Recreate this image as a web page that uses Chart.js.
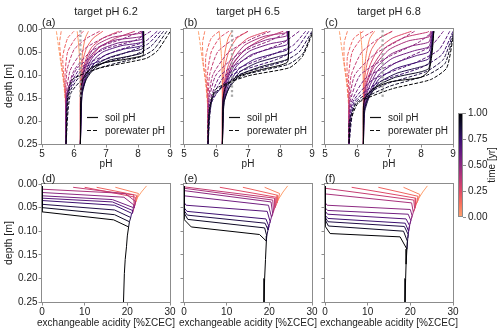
<!DOCTYPE html>
<html>
<head>
<meta charset="utf-8">
<script src="https://cdn.jsdelivr.net/npm/chart.js@4.4.0/dist/chart.umd.min.js"></script>
<style>
  body { margin: 0; background: #fff; }
  #fig { position: relative; width: 500px; height: 332px; overflow: hidden;
         font-family: "Liberation Sans", Arial, sans-serif; color: #222; }
  #fig canvas { position: absolute; left: 0; top: 0; }
  .txt { position: absolute; white-space: nowrap; line-height: 1; }
</style>
</head>
<body>
<div id="fig"></div>
<script>
// time steps [yr], one curve per step
const TIMES = [0, 0.083, 0.167, 0.25, 0.333, 0.417, 0.5, 0.583, 0.667, 0.75, 0.833, 0.917, 1];
const TARGET_PH = [6.2, 6.5, 6.8];
const TARGET_DEPTHS = [0.005, 0.015, 0.025, 0.035, 0.045, 0.055, 0.065, 0.075, 0.085, 0.095, 0.105, 0.115, 0.125, 0.135, 0.145];
const DEPTH_TICKS = [0, 0.05, 0.1, 0.15, 0.2, 0.25];
const PH_TICKS = [5, 6, 7, 8, 9];
const ACID_TICKS = [0, 10, 20, 30];
const CBAR_TICKS = [0, 0.25, 0.5, 0.75, 1];

// [pH, depth] points, soil pH (solid) and porewater pH (dashed)
const SOIL_A = [
  [[6.10,.005],[6.14,.03],[6.17,.06],[6.19,.10],[6.20,.15],[6.20,.25]],
  [[6.45,.005],[6.35,.02],[6.27,.05],[6.22,.09],[6.20,.13],[6.20,.25]],
  [[6.90,.005],[6.60,.02],[6.40,.04],[6.27,.07],[6.22,.11],[6.20,.15],[6.20,.25]],
  [[7.40,.005],[6.90,.02],[6.55,.04],[6.35,.07],[6.25,.10],[6.20,.15],[6.20,.25]],
  [[7.90,.005],[7.30,.02],[6.80,.04],[6.45,.07],[6.28,.10],[6.21,.15],[6.20,.25]],
  [[8.10,.005],[8.10,.009],[7.20,.018],[6.70,.035],[6.45,.06],[6.30,.09],[6.22,.14],[6.20,.25]],
  [[8.12,.005],[8.12,.016],[7.30,.024],[6.80,.038],[6.50,.06],[6.32,.09],[6.23,.13],[6.20,.25]],
  [[8.13,.005],[8.13,.022],[7.40,.030],[6.85,.044],[6.55,.065],[6.35,.095],[6.23,.14],[6.20,.25]],
  [[8.14,.005],[8.13,.028],[7.50,.036],[6.90,.050],[6.58,.07],[6.37,.10],[6.24,.14],[6.20,.25]],
  [[8.15,.005],[8.14,.035],[7.60,.043],[7.00,.056],[6.62,.076],[6.40,.10],[6.25,.14],[6.20,.25]],
  [[8.16,.005],[8.15,.042],[7.70,.050],[7.10,.062],[6.65,.08],[6.40,.105],[6.25,.145],[6.20,.25]],
  [[8.17,.005],[8.16,.050],[7.80,.058],[7.10,.068],[6.65,.085],[6.38,.11],[6.24,.14],[6.20,.25]],
  [[8.18,.005],[8.17,.052],[8.15,.058],[7.60,.066],[6.90,.074],[6.50,.087],[6.30,.105],[6.22,.13],[6.20,.25]]
];
const PORE_A = [
  [[5.45,.005],[5.50,.03],[5.58,.07],[5.68,.12],[5.74,.17],[5.75,.25]],
  [[5.60,.005],[5.55,.03],[5.60,.07],[5.69,.12],[5.75,.17],[5.75,.25]],
  [[6.00,.005],[5.80,.02],[5.65,.06],[5.70,.12],[5.75,.17],[5.75,.25]],
  [[6.30,.005],[6.05,.02],[5.80,.05],[5.72,.10],[5.75,.17],[5.75,.25]],
  [[6.80,.005],[6.40,.02],[6.00,.045],[5.78,.09],[5.74,.15],[5.75,.25]],
  [[7.50,.005],[6.90,.02],[6.30,.045],[5.88,.09],[5.75,.15],[5.75,.25]],
  [[8.10,.005],[7.50,.022],[6.60,.045],[6.00,.09],[5.76,.15],[5.75,.25]],
  [[8.40,.005],[7.90,.025],[6.90,.045],[6.10,.085],[5.78,.14],[5.75,.25]],
  [[8.60,.005],[8.20,.028],[7.30,.048],[6.20,.085],[5.80,.14],[5.75,.25]],
  [[8.70,.005],[8.30,.033],[7.60,.052],[6.30,.085],[5.82,.14],[5.75,.25]],
  [[8.80,.005],[8.40,.038],[7.90,.056],[6.40,.087],[5.85,.14],[5.75,.25]],
  [[8.90,.005],[8.50,.044],[8.10,.060],[6.60,.09],[5.90,.14],[5.75,.25]],
  [[9.00,.006],[8.60,.048],[8.25,.064],[6.80,.085],[5.95,.11],[5.80,.15],[5.75,.25]]
];
const SOIL_B = [
  [[6.10,.005],[6.14,.03],[6.17,.06],[6.19,.10],[6.20,.15],[6.20,.25]],
  [[6.50,.005],[6.38,.02],[6.28,.05],[6.22,.09],[6.20,.13],[6.20,.25]],
  [[7.00,.005],[6.65,.02],[6.42,.045],[6.28,.08],[6.22,.12],[6.20,.25]],
  [[7.60,.005],[7.00,.02],[6.60,.045],[6.38,.08],[6.25,.12],[6.20,.25]],
  [[8.10,.005],[7.50,.02],[6.90,.045],[6.50,.08],[6.28,.12],[6.20,.17],[6.20,.25]],
  [[8.20,.005],[8.20,.008],[7.50,.016],[6.90,.035],[6.50,.07],[6.30,.11],[6.21,.16],[6.20,.25]],
  [[8.22,.005],[8.21,.015],[7.60,.023],[7.00,.040],[6.58,.07],[6.33,.11],[6.22,.16],[6.20,.25]],
  [[8.23,.005],[8.22,.024],[7.70,.032],[7.05,.048],[6.62,.075],[6.35,.11],[6.22,.16],[6.20,.25]],
  [[8.24,.005],[8.23,.033],[7.80,.041],[7.10,.056],[6.65,.08],[6.37,.115],[6.23,.16],[6.20,.25]],
  [[8.25,.005],[8.24,.044],[7.90,.052],[7.20,.066],[6.70,.088],[6.40,.12],[6.24,.16],[6.20,.25]],
  [[8.26,.005],[8.25,.053],[7.95,.060],[7.30,.073],[6.75,.093],[6.42,.125],[6.25,.16],[6.20,.25]],
  [[8.27,.005],[8.25,.064],[8.00,.071],[7.35,.083],[6.75,.10],[6.40,.13],[6.25,.16],[6.20,.25]],
  [[8.28,.005],[8.26,.066],[8.22,.073],[8.00,.079],[7.37,.089],[6.66,.104],[6.30,.126],[6.22,.154],[6.20,.25]]
];
const PORE_B = [
  [[5.45,.005],[5.50,.03],[5.58,.07],[5.68,.12],[5.74,.17],[5.75,.25]],
  [[5.65,.005],[5.58,.03],[5.60,.07],[5.69,.12],[5.75,.17],[5.75,.25]],
  [[6.10,.005],[5.85,.02],[5.68,.06],[5.70,.12],[5.75,.17],[5.75,.25]],
  [[6.40,.005],[6.10,.02],[5.85,.05],[5.73,.10],[5.75,.17],[5.75,.25]],
  [[7.00,.005],[6.55,.022],[6.05,.05],[5.80,.10],[5.75,.16],[5.75,.25]],
  [[7.70,.005],[7.10,.022],[6.40,.05],[5.90,.10],[5.76,.16],[5.75,.25]],
  [[8.30,.005],[7.70,.025],[6.75,.052],[6.00,.10],[5.77,.16],[5.75,.25]],
  [[8.60,.005],[8.10,.030],[7.20,.055],[6.15,.10],[5.80,.16],[5.75,.25]],
  [[8.80,.005],[8.40,.036],[7.60,.060],[6.30,.10],[5.83,.16],[5.75,.25]],
  [[8.90,.005],[8.50,.044],[7.90,.066],[6.50,.10],[5.86,.16],[5.75,.25]],
  [[9.00,.005],[8.60,.050],[8.10,.071],[6.70,.10],[5.90,.15],[5.75,.25]],
  [[9.00,.008],[8.70,.055],[8.25,.077],[6.90,.10],[5.95,.14],[5.76,.20],[5.75,.25]],
  [[9.00,.012],[8.70,.060],[8.30,.084],[7.00,.102],[6.00,.13],[5.80,.17],[5.75,.25]]
];
const SOIL_C = [
  [[6.10,.005],[6.14,.03],[6.17,.06],[6.19,.10],[6.20,.15],[6.20,.25]],
  [[6.55,.005],[6.40,.02],[6.30,.05],[6.23,.09],[6.20,.13],[6.20,.25]],
  [[7.10,.005],[6.70,.02],[6.45,.045],[6.30,.08],[6.22,.12],[6.20,.25]],
  [[7.70,.005],[7.10,.02],[6.65,.045],[6.40,.08],[6.25,.12],[6.20,.25]],
  [[8.25,.005],[8.20,.007],[7.50,.018],[6.90,.040],[6.50,.08],[6.28,.12],[6.20,.17],[6.20,.25]],
  [[8.30,.005],[8.25,.017],[7.60,.026],[7.00,.045],[6.55,.08],[6.30,.12],[6.21,.17],[6.20,.25]],
  [[8.32,.005],[8.25,.028],[7.70,.037],[7.05,.055],[6.60,.085],[6.33,.125],[6.22,.17],[6.20,.25]],
  [[8.35,.005],[8.25,.038],[7.80,.047],[7.10,.064],[6.65,.09],[6.36,.13],[6.22,.17],[6.20,.25]],
  [[8.37,.005],[8.25,.049],[7.85,.058],[7.20,.074],[6.70,.098],[6.40,.135],[6.23,.17],[6.20,.25]],
  [[8.38,.005],[8.25,.064],[7.90,.072],[7.20,.086],[6.70,.108],[6.40,.14],[6.24,.17],[6.20,.25]],
  [[8.40,.005],[8.25,.075],[7.95,.083],[7.25,.096],[6.70,.116],[6.40,.145],[6.24,.18],[6.20,.25]],
  [[8.40,.005],[8.25,.085],[8.00,.093],[7.20,.105],[6.65,.123],[6.35,.15],[6.22,.18],[6.20,.25]],
  [[8.40,.005],[8.35,.05],[8.25,.09],[8.00,.105],[7.03,.115],[6.50,.13],[6.25,.15],[6.20,.17],[6.20,.25]]
];
const PORE_C = [
  [[5.45,.005],[5.50,.03],[5.58,.07],[5.68,.12],[5.74,.17],[5.75,.25]],
  [[5.70,.005],[5.60,.03],[5.60,.07],[5.69,.12],[5.75,.17],[5.75,.25]],
  [[6.20,.005],[5.90,.02],[5.70,.06],[5.70,.12],[5.75,.17],[5.75,.25]],
  [[6.50,.005],[6.15,.02],[5.85,.05],[5.74,.10],[5.75,.17],[5.75,.25]],
  [[7.10,.005],[6.65,.022],[6.15,.05],[5.82,.10],[5.75,.16],[5.75,.25]],
  [[7.80,.005],[7.30,.025],[6.55,.055],[5.93,.10],[5.76,.16],[5.75,.25]],
  [[8.40,.005],[7.90,.030],[7.00,.06],[6.10,.10],[5.78,.16],[5.75,.25]],
  [[8.70,.005],[8.30,.038],[7.45,.066],[6.30,.105],[5.82,.16],[5.75,.25]],
  [[8.90,.005],[8.55,.046],[7.80,.074],[6.50,.11],[5.86,.16],[5.75,.25]],
  [[9.00,.005],[8.65,.056],[8.00,.084],[6.70,.115],[5.90,.16],[5.75,.25]],
  [[9.00,.010],[8.70,.066],[8.15,.093],[6.90,.12],[5.95,.16],[5.75,.25]],
  [[9.00,.015],[8.75,.075],[8.20,.10],[7.00,.125],[6.00,.16],[5.76,.20],[5.75,.25]],
  [[9.00,.020],[8.80,.085],[8.30,.11],[7.10,.13],[6.05,.16],[5.80,.20],[5.75,.25]]
];

// [exchangeable acidity, depth]; each curve continues down its panel's deep profile
const SPINE_D = [[24.5,.004],[23.3,.017],[22.3,.03],[21.9,.04],[21.6,.05],[21.2,.062],[20.8,.071],[20.5,.08],[20.3,.091],[20.0,.11],[19.8,.133],[19.5,.16],[19.3,.19],[19.1,.25]];
const ACID_D = [
  [[24.5,.004]],
  [[17.2,.007],[22.6,.020],[22.2,.033]],
  [[12.8,.007],[22.2,.024],[21.9,.040]],
  [[10.0,.007],[21.9,.028],[21.7,.045]],
  [[7.3,.007],[21.5,.023],[21.6,.050]],
  [[0,.005],[0,.011],[19.5,.020],[21.9,.037]],
  [[0,.005],[0,.018],[19.2,.028],[21.6,.045]],
  [[0,.005],[0,.025],[16.5,.033],[21.4,.050]],
  [[0,.005],[0,.030],[16.5,.038],[21.2,.056]],
  [[0,.005],[0,.035],[17.0,.045],[21.0,.062]],
  [[0,.005],[0,.043],[17.0,.055],[20.8,.071]],
  [[0,.005],[0,.050],[17.0,.065],[20.5,.080]],
  [[0,.005],[0,.059],[16.8,.076],[20.3,.091]]
];
const SPINE_E = [[24.3,.004],[23.2,.017],[22.3,.03],[21.7,.04],[21.3,.05],[20.9,.06],[20.5,.07],[20.1,.083],[19.7,.097],[19.4,.11],[19.3,.121],[19.1,.16],[18.9,.2],[18.75,.25]];
const ACID_E = [
  [[24.3,.004]],
  [[18.9,.007],[22.4,.020],[22.1,.033]],
  [[13.8,.007],[22.0,.024],[21.8,.040]],
  [[8.4,.007],[21.6,.028],[21.5,.046]],
  [[0,.005],[0,.006],[21.2,.030],[21.3,.050]],
  [[0,.005],[0,.009],[20.8,.034],[21.0,.058]],
  [[0,.005],[0,.014],[20.4,.038],[20.8,.064]],
  [[0,.005],[0,.025],[19.8,.045],[20.5,.070]],
  [[0,.005],[0,.039],[0.5,.045],[19.5,.058],[20.2,.080]],
  [[0,.005],[0,.050],[0.7,.058],[19.2,.074],[19.9,.090]],
  [[0,.005],[0,.056],[0.8,.066],[19.0,.083],[19.7,.097]],
  [[0,.005],[0,.061],[0.9,.075],[18.9,.093],[19.4,.110]],
  [[0,.005],[0,.075],[1.7,.091],[17.7,.107],[19.3,.121]]
];
const SPINE_F = [[24.0,.004],[22.9,.017],[22.0,.03],[21.5,.04],[21.1,.05],[20.7,.06],[20.3,.072],[19.9,.085],[19.6,.1],[19.4,.115],[19.2,.138],[19.0,.17],[18.9,.2],[18.75,.25]];
const ACID_F = [
  [[24.0,.004]],
  [[18.4,.007],[22.2,.022],[21.8,.035]],
  [[12.5,.007],[21.8,.026],[21.5,.040]],
  [[6.25,.007],[21.3,.030],[21.2,.046]],
  [[0,.005],[0,.009],[20.8,.034],[21.0,.052]],
  [[0,.005],[0,.021],[20.3,.040],[20.7,.060]],
  [[0,.005],[0,.039],[0.5,.045],[20.0,.054],[20.4,.067]],
  [[0,.005],[0,.050],[0.6,.056],[19.5,.064],[20.1,.077]],
  [[0,.005],[0,.057],[0.6,.064],[19.0,.074],[19.8,.088]],
  [[0,.005],[0,.066],[0.7,.073],[18.8,.083],[19.6,.100]],
  [[0,.005],[0,.070],[0.7,.080],[18.6,.090],[19.5,.107]],
  [[0,.005],[0,.075],[0.8,.089],[18.4,.100],[19.3,.121]],
  [[0,.005],[0,.089],[1.2,.105],[17.6,.112],[19.2,.138]]
];

// magma colormap, truncated at 0.8 and reversed for time
const MAGMA = ["#000004", "#140e36", "#3b0f70", "#641a80", "#8c2981", "#b73779", "#de4968", "#f7705c", "#fe9f6d"];

function hexRgb(h) {
  return [1, 3, 5].map(i => parseInt(h.slice(i, i + 2), 16));
}
function timeColor(t) {
  const v = (1 - t) * (MAGMA.length - 1);
  const i = Math.min(Math.floor(v), MAGMA.length - 2);
  const f = v - i;
  const a = hexRgb(MAGMA[i]), b = hexRgb(MAGMA[i + 1]);
  const c = a.map((x, j) => Math.round(x + (b[j] - x) * f));
  return `rgb(${c[0]},${c[1]},${c[2]})`;
}

Chart.defaults.font.family = "'Liberation Sans', Arial, sans-serif";
Chart.defaults.font.size = 10;
Chart.defaults.color = "#222";

const AXIS_GREY = "#8c8c8c";
const Y_AXIS_W = 40;
const X_AXIS_H = 20;
const fig = document.getElementById("fig");

// frame round the plot area, like matplotlib spines
const boxPlugin = {
  id: "box",
  afterDatasetsDraw(chart) {
    const a = chart.chartArea, c = chart.ctx;
    c.save();
    c.strokeStyle = AXIS_GREY;
    c.lineWidth = 1;
    c.strokeRect(Math.round(a.left) - 0.5, Math.round(a.top) - 0.5,
                 Math.round(a.right - a.left) + 1, Math.round(a.bottom - a.top) + 1);
    c.restore();
  }
};

function toXY(pts) {
  return pts.map(p => ({ x: p[0], y: p[1] }));
}

function curveSet(pts, k, dashed, tension) {
  return {
    data: toXY(pts),
    showLine: true,
    borderColor: timeColor(TIMES[k]),
    borderWidth: 1,
    borderDash: dashed ? [3.7, 1.6] : [],
    pointRadius: 0,
    tension: tension,
    fill: false,
    order: 100 - 2 * k - (dashed ? 1 : 0)
  };
}

function panel(box, xTicks, xMin, xMax, yLabels, datasets) {
  const cv = document.createElement("canvas");
  cv.width = 500;
  cv.height = 332;
  fig.appendChild(cv);
  const grid = { drawOnChartArea: false, tickLength: 3.5, color: AXIS_GREY };
  new Chart(cv, {
    type: "scatter",
    data: { datasets: datasets },
    options: {
      responsive: false,
      animation: false,
      devicePixelRatio: 1,
      events: [],
      layout: { padding: { left: box.l - Y_AXIS_W, right: 500 - box.r, top: box.t, bottom: 332 - box.b - X_AXIS_H } },
      plugins: { legend: { display: false }, tooltip: { enabled: false } },
      scales: {
        x: {
          type: "linear", min: xMin, max: xMax,
          afterBuildTicks: s => { s.ticks = xTicks.map(v => ({ value: v })); },
          afterFit: s => { s.height = X_AXIS_H; },
          ticks: { padding: 1, maxRotation: 0, autoSkip: false },
          grid: grid,
          border: { display: false }
        },
        y: {
          type: "linear", reverse: true, min: 0, max: 0.25,
          afterBuildTicks: s => { s.ticks = DEPTH_TICKS.map(v => ({ value: v })); },
          afterFit: s => { s.width = Y_AXIS_W; },
          ticks: { padding: 1, autoSkip: false, callback: v => yLabels ? v.toFixed(2) : "" },
          grid: grid,
          border: { display: false }
        }
      }
    },
    plugins: [boxPlugin]
  });
}

function addText(str, x, y, size, opts) {
  const d = document.createElement("div");
  d.className = "txt";
  d.textContent = str;
  d.style.fontSize = size + "px";
  d.style.left = x + "px";
  d.style.top = y + "px";
  let tf = "translate(" + (opts && opts.left ? "0" : "-50%") + ",-50%)";
  if (opts && opts.rotate) tf += " rotate(-90deg)";
  d.style.transform = tf;
  fig.appendChild(d);
}

const COLS = [{ l: 42, r: 170 }, { l: 184, r: 312 }, { l: 325, r: 453 }];
const TOP = { t: 29, b: 144 };
const BOT = { t: 184, b: 302 };
const SOILS = [SOIL_A, SOIL_B, SOIL_C];
const PORES = [PORE_A, PORE_B, PORE_C];
const ACIDS = [ACID_D, ACID_E, ACID_F];
const SPINES = [SPINE_D, SPINE_E, SPINE_F];
const TITLES = ["target pH 6.2", "target pH 6.5", "target pH 6.8"];
const LETTERS_TOP = ["(a)", "(b)", "(c)"];
const LETTERS_BOT = ["(d)", "(e)", "(f)"];

COLS.forEach((col, i) => {
  // pH profiles
  const ds = [];
  SOILS[i].forEach((pts, k) => ds.push(curveSet(pts, k, false, 0.2)));
  PORES[i].forEach((pts, k) => ds.push(curveSet(pts, k, true, 0.2)));
  ds.push({
    data: TARGET_DEPTHS.map(d => ({ x: TARGET_PH[i], y: d })),
    showLine: false, pointRadius: 1.6, pointStyle: "rect",
    backgroundColor: "rgba(160,160,160,0.9)", borderWidth: 0, order: 0
  });
  panel({ l: col.l, r: col.r, t: TOP.t, b: TOP.b }, PH_TICKS, 5, 9, i === 0, ds);

  // exchangeable acidity profiles; the shared deep part is only drawn
  // down to where the next (later, darker) curve takes it over
  const curves = ACIDS[i];
  const ds2 = curves.map((pts, k) => {
    const last = pts[pts.length - 1][1];
    const next = k + 1 < curves.length ? curves[k + 1][curves[k + 1].length - 1][1] : 1;
    const below = SPINES[i].filter(p => p[1] > last);
    const cut = below.findIndex(p => p[1] >= next);
    const tail = cut < 0 ? below : below.slice(0, cut + 1);
    return curveSet(pts.concat(tail), k, false, 0);
  });
  panel({ l: col.l, r: col.r, t: BOT.t, b: BOT.b }, ACID_TICKS, 0, 30, i === 0, ds2);

  const cx = (col.l + col.r) / 2;
  addText(TITLES[i], cx, 11, 11);
  addText(LETTERS_TOP[i], col.l, 22, 11, { left: true });
  addText(LETTERS_BOT[i], col.l, 178, 11, { left: true });
  addText("pH", cx, 164, 10);
  addText("exchangeable acidity [%\u03A3CEC]", cx, 323, 10);

  // legend inside the pH panels
  const svg = document.createElementNS("http://www.w3.org/2000/svg", "svg");
  svg.setAttribute("width", "14");
  svg.setAttribute("height", "26");
  svg.style.position = "absolute";
  svg.style.left = (col.l + 44) + "px";
  svg.style.top = "108px";
  svg.innerHTML = '<line x1="1" y1="9.5" x2="12" y2="9.5" stroke="#111" stroke-width="1.2"/>' +
                  '<line x1="1" y1="22.5" x2="12" y2="22.5" stroke="#111" stroke-width="1.2" stroke-dasharray="4,2"/>';
  fig.appendChild(svg);
  addText("soil pH", col.l + 63, 118, 10, { left: true });
  addText("porewater pH", col.l + 63, 131, 10, { left: true });
});

addText("depth [m]", 8, 86, 10.5, { rotate: true });
addText("depth [m]", 8, 243, 10.5, { rotate: true });

// colour bar
const cb = document.createElement("div");
cb.style.cssText = "position:absolute;left:458px;top:113px;width:5px;height:104px;border:1px solid " + AXIS_GREY + ";box-sizing:border-box;";
cb.style.background = "linear-gradient(to top," + MAGMA.slice().reverse().map((c, j) => c + " " + (j * 100 / (MAGMA.length - 1)) + "%").join(",") + ")";
fig.appendChild(cb);
CBAR_TICKS.forEach(v => {
  const y = 217 - v * 104;
  const tk = document.createElement("div");
  tk.style.cssText = "position:absolute;left:463px;width:3px;height:1px;background:" + AXIS_GREY + ";top:" + (y - 0.5) + "px;";
  fig.appendChild(tk);
  addText(v.toFixed(2), 468, y, 10, { left: true });
});
addText("time [yr]", 492, 165, 10, { rotate: true });
</script>
</body>
</html>
